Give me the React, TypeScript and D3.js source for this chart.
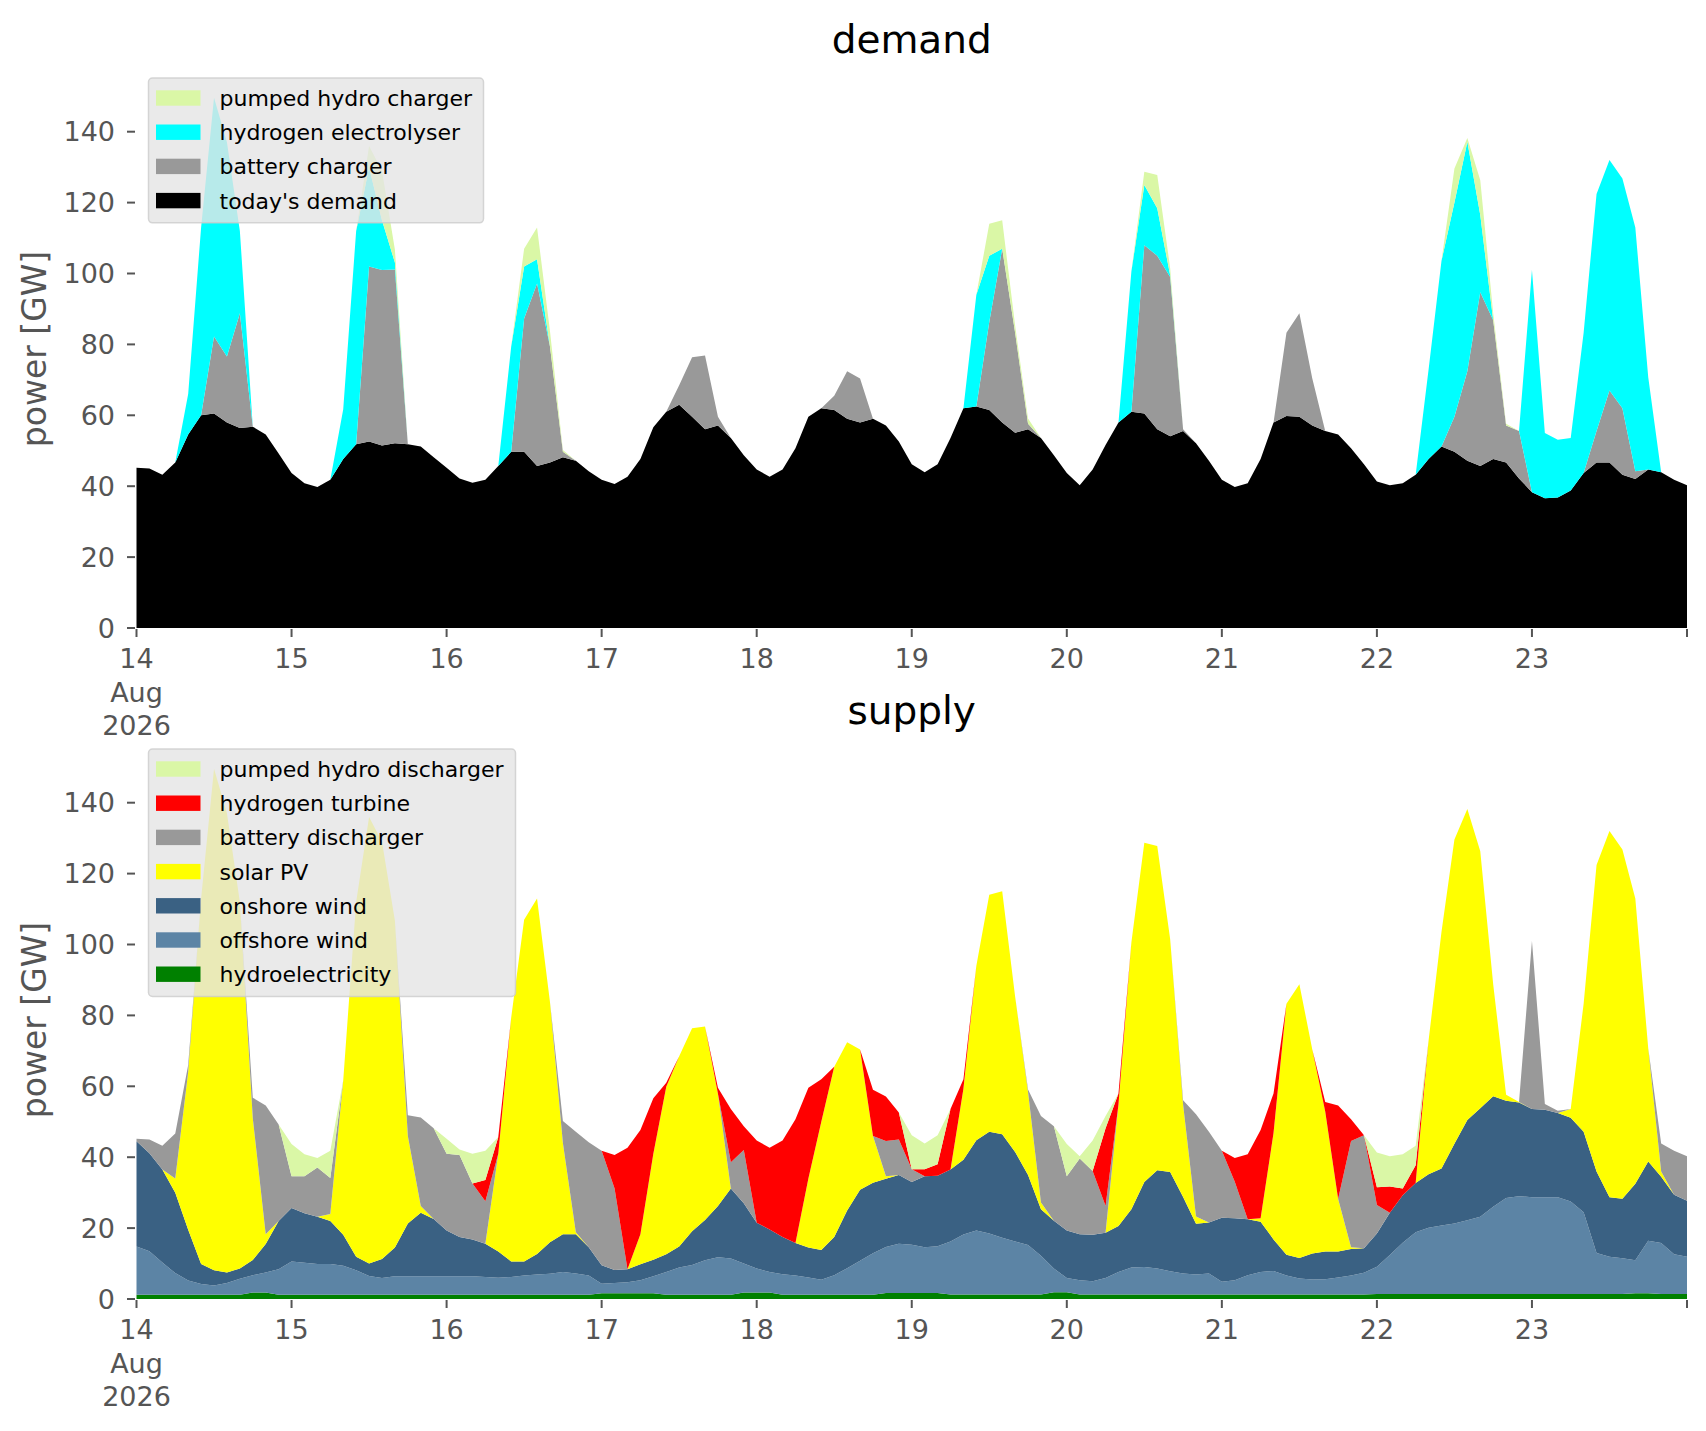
import { useEffect, useRef } from "react";
import * as d3 from "d3";

// two-hourly samples, 14 Aug 2026 00:00 .. 24 Aug 2026 00:00
const START = Date.UTC(2026, 7, 14);
const STEP = 2 * 3600 * 1000;

// ---- demand (GW) ----
const todaysDemand = [
  45.2, 45, 43.2, 46.7, 54.6, 60, 60.5, 58, 56.4, 56.8, 54.6, 49.2,
  43.7, 40.8, 39.8, 41.8, 47.7, 51.8, 52.6, 51.5, 52.1, 51.8, 51.2, 48.2,
  45.2, 42.2, 41, 41.8, 45.7, 49.7, 49.7, 45.7, 46.7, 48.2, 47.2, 44.2,
  41.8, 40.6, 42.7, 47.7, 56.6, 61, 63, 59.6, 56.1, 57.1, 53.6, 48.7,
  44.7, 42.7, 44.7, 50.7, 59.6, 62, 61.5, 59, 58, 59, 57.1, 52.6,
  46.2, 43.9, 46.2, 53.6, 62, 62.5, 61.5, 58, 55.1, 56.1, 53.6, 48.7,
  43.7, 40.3, 44.7, 51.6, 58, 61, 60.5, 56.1, 54.1, 55.6, 52.1, 47.2,
  41.8, 39.8, 40.8, 47.7, 58, 59.8, 59.6, 57.1, 55.6, 54.6, 50.7, 46.2,
  41.3, 40.3, 40.8, 43.2, 47.7, 51.2, 49.7, 47.2, 45.7, 47.7, 46.7, 42.2,
  38.3, 36.6, 36.8, 38.8, 43.7, 46.7, 46.7, 43.2, 42, 44.7, 43.9, 41.8,
  40.3,
];
const batteryCharger = [
  0, 0, 0, 0, 0, 0, 21.7, 18.6, 32.4, 0, 0, 0,
  0, 0, 0, 0, 0, 0, 49.4, 49.5, 49, 0, 0, 0,
  0, 0, 0, 0, 0, 0, 37.6, 51.5, 32.7, 1.5, 0, 0,
  0, 0, 0, 0, 0, 0, 5.5, 16.8, 20.8, 2.5, 0, 0,
  0, 0, 0, 0, 0, 0, 4, 13.4, 12.4, 0, 0, 0,
  0, 0, 0, 0, 0, 0, 24.8, 49, 28.2, 1.5, 0, 0,
  0, 0, 0, 0, 0, 0, 47.5, 48.9, 44.9, 0.5, 0, 0,
  0, 0, 0, 0, 0, 23.5, 29.2, 13.3, 0, 0, 0, 0,
  0, 0, 0, 0, 0, 0, 9.9, 25.2, 49, 39.1, 10.4, 13.4,
  0, 0, 0, 0, 0, 8.9, 20.3, 18.8, 2.2, 0, 0, 0,
  0,
];
const hydrogenElectrolyser = [
  0, 0, 0, 0, 11.4, 53, 67.4, 60.4, 23.2, 0, 0, 0,
  0, 0, 0, 0, 14, 60.2, 28, 14, 2, 0, 0, 0,
  0, 0, 0, 0, 0, 29.7, 14.7, 6.8, 0, 0, 0, 0,
  0, 0, 0, 0, 0, 0, 0, 0, 0, 0, 0, 0,
  0, 0, 0, 0, 0, 0, 0, 0, 0, 0, 0, 0,
  0, 0, 0, 0, 0, 31.5, 18.7, 0, 0, 0, 0, 0,
  0, 0, 0, 0, 0, 39.6, 17, 13.4, 0.5, 0, 0, 0,
  0, 0, 0, 0, 0, 0, 0, 0, 0, 0, 0, 0,
  0, 0, 0, 0, 25.2, 52.4, 60.4, 64.8, 21.8, 0, 0, 0,
  62.7, 18.4, 16.3, 14.8, 39.6, 66.8, 65, 64.8, 68.8, 26, 0, 0,
  0,
];
const pumpedHydroCharger = [
  0, 0, 0, 0, 0, 0, 0, 0, 0, 0, 0, 0,
  0, 0, 0, 0, 0, 0, 6, 14, 3.6, 0, 0, 0,
  0, 0, 0, 0, 0, 0, 5, 9, 4.4, 0.5, 0, 0,
  0, 0, 0, 0, 0, 0, 0, 0, 0, 0, 0, 0,
  0, 0, 0, 0, 0, 0, 0, 0, 0, 0, 0, 0,
  0, 0, 0, 0, 0, 0, 9, 8, 2, 1.5, 0, 0,
  0, 0, 0, 0, 0, 0, 3.7, 9.4, 2, 0, 0, 0,
  0, 0, 0, 0, 0, 0, 0, 0, 0, 0, 0, 0,
  0, 0, 0, 0, 0, 0, 9.6, 1, 9.8, 2, 0.5, 0,
  0, 0, 0, 0, 0, 0, 0, 0, 0, 0, 0, 0,
  0,
];

// ---- supply (GW) ----
const hydroelectricity = [
  1.2, 1.2, 1.2, 1.2, 1.2, 1.2, 1.2, 1.2, 1.2, 1.8, 1.8, 1.2,
  1.2, 1.2, 1.2, 1.2, 1.2, 1.2, 1.2, 1.2, 1.2, 1.2, 1.2, 1.2,
  1.2, 1.2, 1.2, 1.2, 1.2, 1.2, 1.2, 1.2, 1.2, 1.2, 1.2, 1.2,
  1.6, 1.6, 1.6, 1.6, 1.6, 1.2, 1.2, 1.2, 1.2, 1.2, 1.2, 1.8,
  1.8, 1.8, 1.2, 1.2, 1.2, 1.2, 1.2, 1.2, 1.2, 1.2, 1.7, 1.7,
  1.7, 1.7, 1.7, 1.3, 1.3, 1.3, 1.3, 1.3, 1.3, 1.3, 1.3, 1.9,
  1.9, 1.3, 1.3, 1.3, 1.3, 1.3, 1.3, 1.3, 1.3, 1.3, 1.3, 1.3,
  1.3, 1.3, 1.3, 1.3, 1.3, 1.3, 1.3, 1.3, 1.3, 1.3, 1.3, 1.3,
  1.4, 1.4, 1.4, 1.4, 1.4, 1.4, 1.4, 1.4, 1.4, 1.4, 1.4, 1.4,
  1.4, 1.4, 1.4, 1.4, 1.4, 1.4, 1.4, 1.4, 1.6, 1.6, 1.4, 1.4,
  1.4,
];
const offshoreWind = [
  13.6, 12.3, 9.1, 6.1, 4.0, 3.0, 2.6, 3.3, 4.5, 4.9, 5.7, 7.2,
  9.4, 9.0, 8.7, 8.7, 8.2, 6.9, 5.3, 4.7, 5.2, 5.2, 5.2, 5.2,
  5.2, 5.2, 5.2, 5.0, 4.8, 5.0, 5.4, 5.7, 5.9, 6.4, 6.0, 5.4,
  2.7, 2.9, 3.1, 3.7, 4.8, 6.4, 7.7, 8.4, 9.7, 10.6, 10.2, 8.2,
  6.8, 5.8, 5.8, 5.4, 4.9, 4.2, 5.5, 7.5, 9.6, 11.7, 13.0, 13.9,
  13.6, 12.9, 13.2, 14.9, 16.9, 18.0, 17.2, 16.0, 14.9, 13.9, 10.9, 6.7,
  4.0, 4.0, 3.7, 4.6, 6.3, 7.6, 7.7, 7.3, 6.5, 5.9, 5.6, 5.9,
  3.6, 4.0, 5.4, 6.3, 6.6, 5.3, 4.5, 4.2, 4.3, 4.8, 5.3, 6.1,
  7.7, 11.0, 14.5, 17.4, 18.7, 19.3, 19.9, 20.8, 21.8, 24.6, 27.1, 27.6,
  27.3, 27.3, 27.3, 26.1, 23.1, 11.6, 10.5, 10.1, 9.3, 14.8, 14.4, 11.2,
  10.5,
];
const onshoreWind = [
  29.7, 27.6, 26.2, 22.7, 14.3, 5.7, 4.3, 3.0, 2.9, 4.3, 8.0, 13.6,
  15.1, 14.0, 13.3, 12.1, 8.7, 3.8, 3.5, 5.4, 8.1, 14.9, 17.9, 16.2,
  12.9, 11.1, 10.4, 9.4, 7.4, 4.4, 4.0, 5.8, 8.9, 10.7, 11.1, 8.0,
  5.2, 3.7, 3.7, 4.5, 4.7, 5.0, 5.9, 9.5, 11.4, 14.4, 19.8, 17.0,
  12.9, 12.0, 10.5, 9.2, 8.4, 8.4, 10.8, 16.3, 20.0, 19.9, 19.2, 19.4,
  17.7, 20.0, 19.9, 20.3, 21.1, 25.5, 28.7, 29.2, 25.3, 19.8, 13.1, 13.5,
  13.4, 13.0, 13.1, 12.8, 13.0, 16.4, 24.0, 27.7, 28.0, 21.6, 14.3, 14.4,
  18.0, 17.5, 15.8, 14.2, 8.9, 5.9, 5.8, 7.3, 7.8, 7.3, 7.5, 6.9,
  9.4, 11.9, 13.4, 13.9, 15.1, 16.1, 22.5, 28.3, 30.6, 31.2, 27.4, 26.4,
  24.9, 24.7, 23.8, 23.6, 22.7, 23.0, 16.8, 16.8, 21.6, 22.4, 18.7, 16.8,
  15.8,
];
const solarPV = [
  0, 0, 0, 4, 44.5, 103.1, 141.5, 129.5, 103.4, 40, 2.8, 0,
  0, 0, 0, 2, 43.6, 100.1, 126, 117.7, 92.2, 24.7, 1.9, 0,
  0, 0, 0, 0, 27.6, 68.8, 96.4, 100.3, 67.8, 25.7, 0.5, 0,
  0, 0, 0, 8.5, 29.9, 47.3, 53.7, 57.3, 54.6, 31.7, 0, 0,
  0, 0, 0, 0, 19.5, 36.2, 48, 47.4, 39.6, 13.2, 0.7, 0,
  0, 0, 0, 0, 20, 49.2, 66.8, 68.5, 43.8, 23.4, 1.9, 0,
  0, 0, 0, 0, 34.3, 75.3, 95.7, 91.5, 65.7, 26.1, 2.1, 0,
  0, 0, 0, 1, 30, 70.8, 77.2, 57.6, 39.5, 14.8, 0.5, 0,
  0, 0, 0, 0, 37.7, 66.8, 85.8, 87.7, 72.5, 31.6, 1.7, 0.2,
  0, 0, 0, 2.5, 36.1, 86.4, 103.3, 98.5, 80.5, 31.9, 1.5, 0,
  0,
];
const batteryDischarger = [
  0.7, 3.9, 6.7, 12.7, 2, 0, 0, 0, 0, 5.8, 36.3, 27.2,
  8.9, 10.4, 13.9, 10.1, 0, 0, 0, 0, 0, 5.8, 25, 25.6,
  21.7, 23.1, 15.8, 12, 0, 0, 0, 0, 0, 6.2, 28.4, 29.6,
  32.3, 23, 0, 0, 0, 0, 0, 0, 0, 0, 7.4, 15,
  0, 0, 0, 0, 0, 0, 0, 0, 0, 0, 10, 10,
  3.6, 0, 0, 0, 0, 0, 0, 0, 0, 0.7, 24.4, 26.6,
  15.3, 21.3, 18, 7.5, 0, 0, 0, 0, 0, 1.2, 28.8, 25.6,
  18.9, 10.3, 0, 0, 0, 0, 0, 0, 0, 0, 30, 31.9,
  8, 0, 0, 0, 0, 0, 0, 0, 0, 0, 0, 0,
  47.4, 1.6, 0.6, 0, 0, 0, 0, 0, 0, 0, 7.9, 12.4,
  12.6,
];
const hydrogenTurbine = [
  0, 0, 0, 0, 0, 0, 0, 0, 0, 0, 0, 0,
  0, 0, 0, 0, 0, 0, 0, 0, 0, 0, 0, 0,
  0, 0, 0, 6, 4.7, 0, 0, 0, 0, 0, 0, 0,
  0, 9.4, 34.3, 29.4, 15.6, 1.1, 0, 0, 0, 1.7, 15, 6.7,
  23.2, 23.1, 27.2, 34.9, 25.6, 12, 0, 0, 0, 13, 12.5, 7.6,
  0, 2, 3.2, 17.1, 2.7, 0, 0, 0, 0, 0, 0, 0,
  0, 0, 0, 22, 3.1, 0, 0, 0, 0, 0, 0, 0,
  0, 6.7, 18.3, 24.9, 11.2, 0, 0, 0, 2.7, 26.4, 6.1, 0,
  5, 7.4, 1.9, 5, 0, 0, 0, 0, 0, 0, 0, 0,
  0, 0, 0, 0, 0, 0, 0, 0, 0, 0, 0, 0,
  0,
];
const pumpedHydroDischarger = [
  0, 0, 0, 0, 0, 0, 0, 0, 0, 0, 0, 0,
  9.1, 6.2, 2.7, 7.7, 0, 0, 0, 0, 0, 0, 0, 0,
  4.2, 1.6, 8.4, 8.2, 0, 0, 0, 0, 0, 0, 0, 0,
  0, 0, 0, 0, 0, 0, 0, 0, 0, 0, 0, 0,
  0, 0, 0, 0, 0, 0, 0, 0, 0, 0, 0, 0,
  9.6, 7.3, 8.2, 0, 0, 0, 0, 0, 0, 0, 0, 0,
  9.1, 0.7, 8.6, 3.4, 0, 0, 0, 0, 0, 0, 0, 0,
  0, 0, 0, 0, 0, 0, 0, 0, 0, 0, 0, 0,
  9.8, 8.6, 9.6, 5.5, 0, 0, 0, 0, 0, 0, 0, 0,
  0, 0, 0, 0, 0, 0, 0, 0, 0, 0, 0, 0,
  0,
];

const yTicks = [0, 20, 40, 60, 80, 100, 120, 140];

interface Series {
  name: string;
  color: string;
  values: number[];
}

// bottom of the stack first
const demandSeries: Series[] = [
  { name: "today's demand", color: "#000000", values: todaysDemand },
  { name: "battery charger", color: "#999999", values: batteryCharger },
  { name: "hydrogen electrolyser", color: "#00ffff", values: hydrogenElectrolyser },
  { name: "pumped hydro charger", color: "#daf7a6", values: pumpedHydroCharger },
];

const supplySeries: Series[] = [
  { name: "hydroelectricity", color: "#008000", values: hydroelectricity },
  { name: "offshore wind", color: "#5c84a5", values: offshoreWind },
  { name: "onshore wind", color: "#3a6183", values: onshoreWind },
  { name: "solar PV", color: "#ffff00", values: solarPV },
  { name: "battery discharger", color: "#999999", values: batteryDischarger },
  { name: "hydrogen turbine", color: "#ff0000", values: hydrogenTurbine },
  { name: "pumped hydro discharger", color: "#daf7a6", values: pumpedHydroDischarger },
];

const W = 1706;
const H = 1431;
const FONT = "DejaVu Sans, sans-serif";
const TICK = "#555555";

export default function App() {
  const ref = useRef<SVGSVGElement>(null);

  useEffect(() => {
    if (!ref.current) return;
    const svg = d3.select(ref.current);
    svg.selectAll("*").remove();

    const n = todaysDemand.length;
    const times = d3.range(n).map((i) => new Date(START + i * STEP));
    const x = d3
      .scaleUtc()
      .domain([new Date(START), new Date(START + 10 * 86400000)])
      .range([136.5, 1687]);

    const drawPanel = (series: Series[], title: string, y0: number) => {
      const g = svg.append("g");
      const y = d3.scaleLinear().domain([0, 140]).range([y0, y0 - 496.3]);

      const stack = d3
        .stack<number, number>()
        .keys(series.map((_, j) => j))
        .value((i, j) => series[j].values[i]);
      const layers = stack(d3.range(n));

      const area = d3
        .area<d3.SeriesPoint<number>>()
        .x((d) => x(times[d.data]))
        .y0((d) => y(d[0]))
        .y1((d) => y(d[1]));

      g.selectAll("path.layer")
        .data(layers)
        .enter()
        .append("path")
        .attr("class", "layer")
        .attr("d", (d) => area(d))
        .attr("fill", (d) => series[d.key].color)
        .attr("stroke", "none");

      // y axis
      yTicks.forEach((v) => {
        g.append("line")
          .attr("x1", 127)
          .attr("x2", 135)
          .attr("y1", y(v))
          .attr("y2", y(v))
          .attr("stroke", TICK)
          .attr("stroke-width", 2);
        g.append("text")
          .attr("x", 115)
          .attr("y", y(v))
          .attr("dy", "0.36em")
          .attr("text-anchor", "end")
          .attr("font-family", FONT)
          .attr("font-size", 27)
          .attr("fill", TICK)
          .text(v);
      });

      g.append("text")
        .attr("transform", `translate(46, ${y0 - 279}) rotate(-90)`)
        .attr("text-anchor", "middle")
        .attr("font-family", FONT)
        .attr("font-size", 33)
        .attr("fill", TICK)
        .text("power [GW]");

      // x axis (one tick per day)
      const days = d3.utcDay.range(new Date(START), new Date(START + 10 * 86400000 + 1));
      days.forEach((d, k) => {
        g.append("line")
          .attr("x1", x(d))
          .attr("x2", x(d))
          .attr("y1", y0 + 1)
          .attr("y2", y0 + 9)
          .attr("stroke", TICK)
          .attr("stroke-width", 2);
        if (k === days.length - 1) return;
        const lines = k === 0 ? [String(d.getUTCDate()), "Aug", "2026"] : [String(d.getUTCDate())];
        lines.forEach((s, li) => {
          g.append("text")
            .attr("x", x(d))
            .attr("y", y0 + 40 + li * 33.5)
            .attr("text-anchor", "middle")
            .attr("font-family", FONT)
            .attr("font-size", 27)
            .attr("fill", TICK)
            .text(s);
        });
      });

      g.append("text")
        .attr("x", 911.7)
        .attr("y", y0 - 575)
        .attr("text-anchor", "middle")
        .attr("font-family", FONT)
        .attr("font-size", 39)
        .attr("fill", "#000")
        .text(title);

      // legend, top entry = top of stack
      const items = series.slice().reverse();
      const rowH = 34.2;
      const top = y0 - 550;
      const boxW = d3.max(items, (s) => s.name.length)! > 21 ? 367 : 335;
      const lg = g.append("g");
      lg.append("rect")
        .attr("x", 148.5)
        .attr("y", top)
        .attr("width", boxW)
        .attr("height", items.length * rowH + 8)
        .attr("rx", 4)
        .attr("fill", "#e5e5e5")
        .attr("fill-opacity", 0.8)
        .attr("stroke", "#cccccc")
        .attr("stroke-opacity", 0.8)
        .attr("stroke-width", 1.5);
      items.forEach((s, k) => {
        const cy = top + 20 + k * rowH;
        lg.append("rect")
          .attr("x", 156)
          .attr("y", cy - 7.7)
          .attr("width", 44.5)
          .attr("height", 15.4)
          .attr("fill", s.color);
        lg.append("text")
          .attr("x", 219.5)
          .attr("y", cy)
          .attr("dy", "0.36em")
          .attr("font-family", FONT)
          .attr("font-size", 22)
          .attr("fill", "#000")
          .text(s.name);
      });
    };

    drawPanel(demandSeries, "demand", 628);
    drawPanel(supplySeries, "supply", 1299);
  }, []);

  return (
    <svg
      ref={ref}
      width={W}
      height={H}
      viewBox={`0 0 ${W} ${H}`}
      style={{ position: "absolute", left: 0, top: 0, background: "#fff" }}
    />
  );
}
